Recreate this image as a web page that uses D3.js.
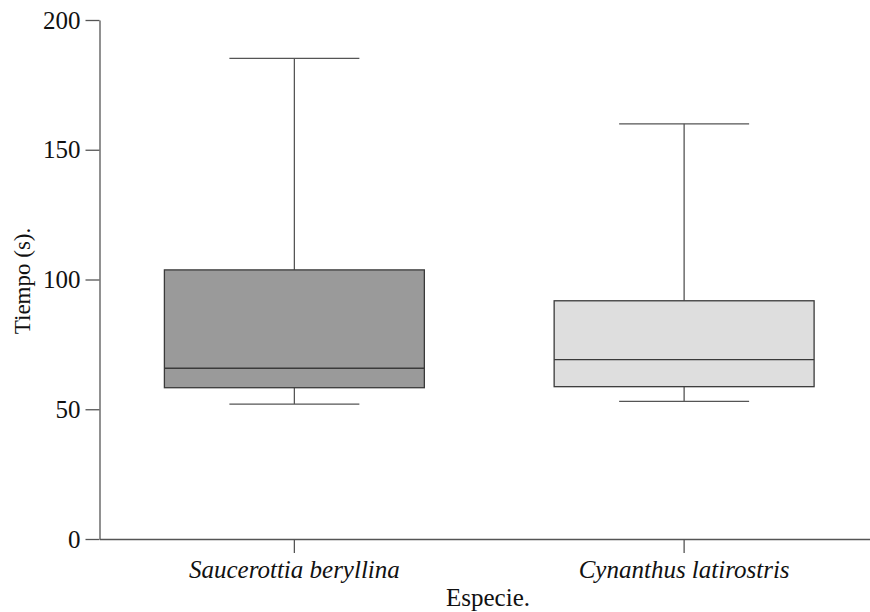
<!DOCTYPE html>
<html>
<head>
<meta charset="utf-8">
<script src="https://cdn.jsdelivr.net/npm/d3@7"></script>
<style>
  body { margin: 0; background: #fff; }
  svg text { font-family: "Liberation Serif", "Times New Roman", serif; fill: #111; }
</style>
</head>
<body>
<svg id="chart" width="870" height="612"></svg>
<script>
// data
var species = ["Saucerottia beryllina", "Cynanthus latirostris"];
var mins = [52, 53];
var q1s = [58.3, 58.7];
var medians = [65.8, 69.1];
var q3s = [103.7, 91.8];
var maxs = [185.2, 160];
var fills = ["#9a9a9a", "#dedede"];
var yTicks = [0, 50, 100, 150, 200];

var svg = d3.select("#chart");
var plotLeft = 99.5, plotRight = 879, plotTop = 20, plotBottom = 539;

var x = d3.scaleBand()
    .domain(species)
    .range([plotLeft, plotRight])
    .padding(0);

var y = d3.scaleLinear()
    .domain([0, 200])
    .range([plotBottom, plotTop]);

var boxW = x.bandwidth() * 0.667;
var capW = boxW / 2;

var stroke = "#555";

// y axis
var yAxis = svg.append("g")
    .attr("transform", "translate(" + plotLeft + ",0)")
    .call(d3.axisLeft(y).tickValues(yTicks).tickSize(14).tickSizeOuter(0).tickPadding(5));
yAxis.select(".domain").attr("stroke", stroke).attr("stroke-width", 1.3);
yAxis.selectAll(".tick line").attr("stroke", stroke).attr("stroke-width", 1.3);
yAxis.selectAll(".tick text")
    .style("font-size", "25px")
    .attr("fill", "#111");

// x axis
var xAxis = svg.append("g")
    .attr("transform", "translate(0," + plotBottom + ")")
    .call(d3.axisBottom(x).tickSize(14).tickSizeOuter(0).tickPadding(7));
xAxis.select(".domain").attr("stroke", stroke).attr("stroke-width", 1.3);
xAxis.selectAll(".tick line").attr("stroke", stroke).attr("stroke-width", 1.3);
xAxis.selectAll(".tick text")
    .style("font-size", "25px")
    .style("font-style", "italic")
    .attr("fill", "#111");

var data = species.map(function(s, i) {
    return { name: s, min: mins[i], q1: q1s[i], med: medians[i], q3: q3s[i], max: maxs[i], fill: fills[i] };
});

var boxes = svg.selectAll(".box")
    .data(data)
    .enter()
    .append("g")
    .attr("class", "box")
    .attr("transform", function(d) { return "translate(" + (x(d.name) + x.bandwidth() / 2) + ",0)"; });

// whisker lines
boxes.append("line")
    .attr("x1", 0).attr("x2", 0)
    .attr("y1", function(d) { return y(d.max); })
    .attr("y2", function(d) { return y(d.q3); })
    .attr("stroke", stroke).attr("stroke-width", 1.3);

boxes.append("line")
    .attr("x1", 0).attr("x2", 0)
    .attr("y1", function(d) { return y(d.q1); })
    .attr("y2", function(d) { return y(d.min); })
    .attr("stroke", stroke).attr("stroke-width", 1.3);

// caps
boxes.append("line")
    .attr("x1", -capW / 2).attr("x2", capW / 2)
    .attr("y1", function(d) { return y(d.max); })
    .attr("y2", function(d) { return y(d.max); })
    .attr("stroke", stroke).attr("stroke-width", 1.3);

boxes.append("line")
    .attr("x1", -capW / 2).attr("x2", capW / 2)
    .attr("y1", function(d) { return y(d.min); })
    .attr("y2", function(d) { return y(d.min); })
    .attr("stroke", stroke).attr("stroke-width", 1.3);

// box
boxes.append("rect")
    .attr("x", -boxW / 2)
    .attr("width", boxW)
    .attr("y", function(d) { return y(d.q3); })
    .attr("height", function(d) { return y(d.q1) - y(d.q3); })
    .attr("fill", function(d) { return d.fill; })
    .attr("stroke", "#3a3a3a")
    .attr("stroke-width", 1.3);

// median
boxes.append("line")
    .attr("x1", -boxW / 2).attr("x2", boxW / 2)
    .attr("y1", function(d) { return y(d.med); })
    .attr("y2", function(d) { return y(d.med); })
    .attr("stroke", "#3a3a3a").attr("stroke-width", 1.3);

// axis titles
svg.append("text")
    .attr("x", 488)
    .attr("y", 606)
    .attr("text-anchor", "middle")
    .style("font-size", "25px")
    .text("Especie.");

svg.append("text")
    .attr("transform", "translate(30,281) rotate(-90)")
    .attr("text-anchor", "middle")
    .style("font-size", "23px")
    .text("Tiempo (s).");
</script>
</body>
</html>
